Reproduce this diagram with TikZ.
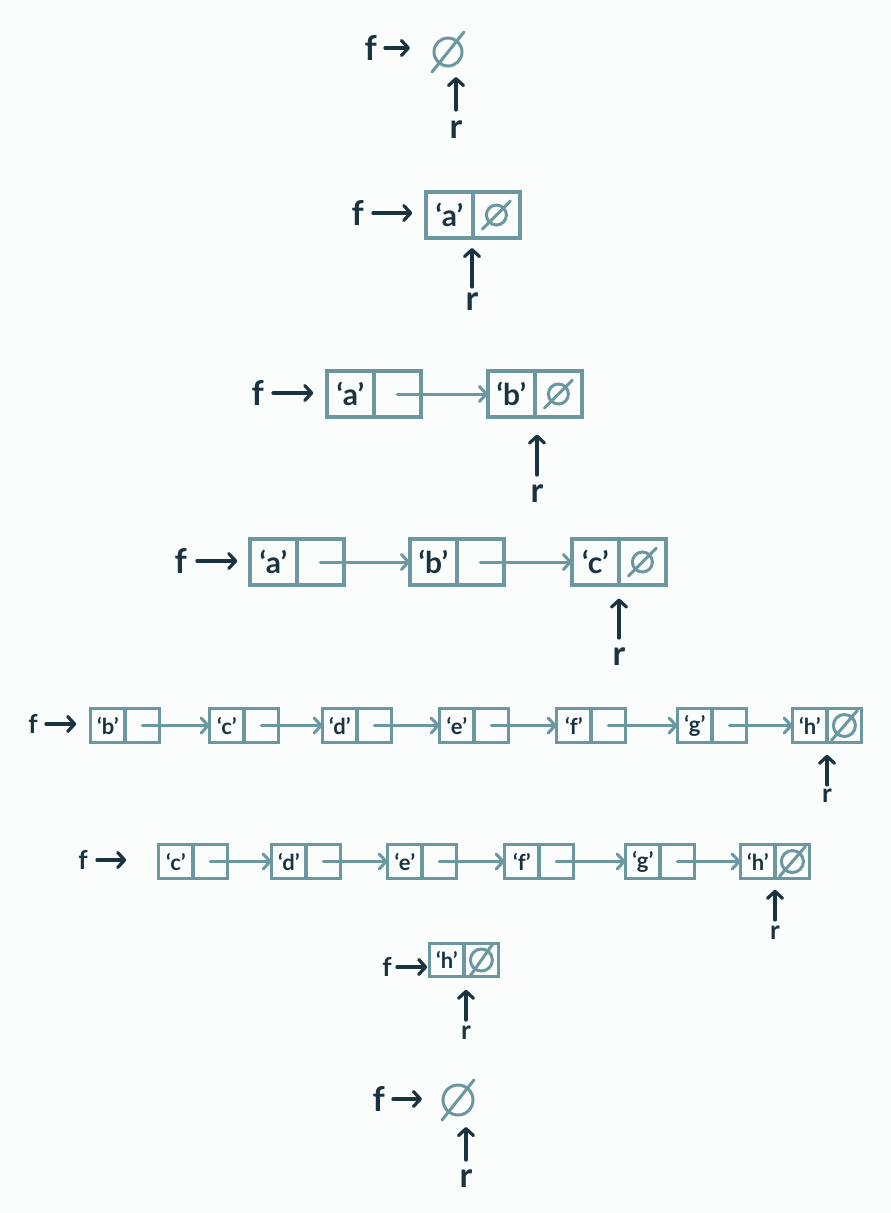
\documentclass[tikz,border=0pt]{standalone}
\usepackage{fontspec}
\setmainfont{Lato}
\usetikzlibrary{arrows.meta, positioning}

\definecolor{boxteal}{HTML}{6B97A1}
\definecolor{ink}{HTML}{1A3340}
\definecolor{paper}{HTML}{FBFCFC}

% slash through an empty-pointer ring
\newcommand{\nilslash}[3]{\draw[nilline] ([shift={(-#2,#3)}]#1.center) -- ([shift={(#2,-#3)}]#1.center);}

\begin{document}
\begin{tikzpicture}[x=1pt, y=-1pt,
    cell/.style = {rectangle, draw=boxteal, line width=4pt, outer sep=0pt, inner sep=0pt,
                   minimum width=47pt, minimum height=46pt, text=ink,
                   font=\fontsize{30}{32}\selectfont\bfseries},
    scell/.style = {cell, line width=3.4pt, minimum width=34.5pt, minimum height=33.5pt,
                    font=\fontsize{22}{24}\selectfont\bfseries},
    lbl/.style = {text=ink, inner sep=2pt, font=\fontsize{34}{36}\selectfont\bfseries},
    slbl/.style = {lbl, font=\fontsize{26}{28}\selectfont\bfseries},
    ptr/.style = {-{Straight Barb[length=7pt, width=15pt, round]}, line width=3.2pt, ink, line cap=round},
    link/.style = {-{Straight Barb[length=7pt, width=15pt, round]}, line width=3pt, boxteal, line cap=round},
    nilring/.style = {circle, draw=boxteal, line width=3pt, outer sep=0pt, inner sep=0pt, minimum size=#1},
    nilline/.style = {boxteal, line width=3pt, line cap=round},
]

\fill[paper] (0,0) rectangle (891,1213);
\useasboundingbox (0,0) rectangle (891,1213);

%% ---- Row 1: empty ----
\node[nilring=28pt] (nil1) at (448,52) {};
\nilslash{nil1}{16}{20}
\node[lbl, anchor=east] (f1) at (379,48) {f};
\draw[ptr, shorten <=6pt, shorten >=24pt] (f1.east) -- (f1.east -| nil1.west);
\node[lbl, anchor=north] (r1) at (456,119) {r};
\draw[ptr, shorten <=9pt, shorten >=11pt] (r1.north) -- (r1.north |- nil1.south);

%% ---- Row 2: 'a' ----
\node[cell] (c2a) at (449.4,215) {‘a’};
\node[cell, right=0pt of c2a] (n2a) {};
\node[nilring=20pt] (nil2) at (n2a.center) {};
\nilslash{nil2}{14}{14}
\node[lbl, anchor=east] (f2) at (366,213) {f};
\draw[ptr, shorten <=7pt, shorten >=13.6pt] (f2.east) -- (f2.east -| c2a.west);
\node[lbl, anchor=north] (r2) at (472,291) {r};
\draw[ptr, shorten <=4pt, shorten >=10pt] (r2.north) -- (r2.north |- n2a.south west);

%% ---- Row 3: 'a' 'b' ----
\node[cell] (c3a) at (350.4,394) {‘a’};
\node[cell, right=0pt of c3a] (n3a) {};
\node[cell] (c3b) at (511.4,394) {‘b’};
\node[cell, right=0pt of c3b] (n3b) {};
\node[nilring=20pt] (nil3) at (n3b.center) {};
\nilslash{nil3}{14}{14}
\draw[link] (n3a.center) -- (c3b.west);
\node[lbl, anchor=east] (f3) at (266,393) {f};
\draw[ptr, shorten <=7pt, shorten >=13.6pt] (f3.east) -- (f3.east -| c3a.west);
\node[lbl, anchor=north] (r3) at (537,483) {r};
\draw[ptr, shorten <=8pt, shorten >=17.5pt] (r3.north) -- (r3.north |- n3b.south west);

%% ---- Row 4: 'a' 'b' 'c' ----
\node[cell] (c4a) at (273.4,562) {‘a’};
\node[cell, right=0pt of c4a] (n4a) {};
\node[cell] (c4b) at (433.4,562) {‘b’};
\node[cell, right=0pt of c4b] (n4b) {};
\node[cell] (c4c) at (595.4,562) {‘c’};
\node[cell, right=0pt of c4c] (n4c) {};
\node[nilring=20pt] (nil4) at (n4c.center) {};
\nilslash{nil4}{14}{14}
\draw[link] (n4a.center) -- (c4b.west);
\draw[link] (n4b.center) -- (c4c.west);
\node[lbl, anchor=east] (f4) at (189,561) {f};
\draw[ptr, shorten <=8pt, shorten >=12.6pt] (f4.east) -- (f4.east -| c4a.west);
\node[lbl, anchor=north] (r4) at (619,646) {r};
\draw[ptr, shorten <=8pt, shorten >=13.5pt] (r4.north) -- (r4.north |- n4c.south west);

%% ---- Row 5: 'b' .. 'h' ----
\node[scell] (c5b) at (107.9,725.5) {‘b’};
\node[scell, right=0pt of c5b] (n5b) {};
\node[scell] (c5c) at (226.9,725.5) {‘c’};
\node[scell, right=0pt of c5c] (n5c) {};
\node[scell] (c5d) at (339.9,725.5) {‘d’};
\node[scell, right=0pt of c5d] (n5d) {};
\node[scell] (c5e) at (456.9,725.5) {‘e’};
\node[scell, right=0pt of c5e] (n5e) {};
\node[scell] (c5f) at (573.9,725.5) {‘f’};
\node[scell, right=0pt of c5f] (n5f) {};
\node[scell] (c5g) at (694.9,725.5) {‘g’};
\node[scell, right=0pt of c5g] (n5g) {};
\node[scell] (c5h) at (809.9,725.5) {‘h’};
\node[scell, right=0pt of c5h] (n5h) {};
\node[nilring=22pt] (nil5) at (n5h.center) {};
\nilslash{nil5}{13}{15}
\draw[link] (n5b.center) -- (c5c.west);
\draw[link] (n5c.center) -- (c5d.west);
\draw[link] (n5d.center) -- (c5e.west);
\draw[link] (n5e.center) -- (c5f.west);
\draw[link] (n5f.center) -- (c5g.west);
\draw[link] (n5g.center) -- (c5h.west);
\node[slbl, anchor=east] (f5) at (40,724) {f};
\draw[ptr, shorten <=6pt, shorten >=14.4pt] (f5.east) -- (f5.east -| c5b.west);
\node[slbl, anchor=north] (r5) at (827,787) {r};
\draw[ptr, shorten <=2pt, shorten >=12.5pt] (r5.north) -- (r5.north |- n5h.south west);

%% ---- Row 6: 'c' .. 'h' ----
\node[scell] (c6c) at (175.9,861.5) {‘c’};
\node[scell, right=0pt of c6c] (n6c) {};
\node[scell] (c6d) at (288.9,861.5) {‘d’};
\node[scell, right=0pt of c6d] (n6d) {};
\node[scell] (c6e) at (404.9,861.5) {‘e’};
\node[scell, right=0pt of c6e] (n6e) {};
\node[scell] (c6f) at (521.9,861.5) {‘f’};
\node[scell, right=0pt of c6f] (n6f) {};
\node[scell] (c6g) at (642.9,861.5) {‘g’};
\node[scell, right=0pt of c6g] (n6g) {};
\node[scell] (c6h) at (757.9,861.5) {‘h’};
\node[scell, right=0pt of c6h] (n6h) {};
\node[nilring=22pt] (nil6) at (n6h.center) {};
\nilslash{nil6}{13}{15}
\draw[link] (n6c.center) -- (c6d.west);
\draw[link] (n6d.center) -- (c6e.west);
\draw[link] (n6e.center) -- (c6f.west);
\draw[link] (n6f.center) -- (c6g.west);
\draw[link] (n6g.center) -- (c6h.west);
\node[slbl, anchor=east] (f6) at (90,860) {f};
\draw[ptr, shorten <=7pt, shorten >=32.4pt] (f6.east) -- (f6.east -| c6c.west);
\node[slbl, anchor=north] (r6) at (775,924) {r};
\draw[ptr, shorten <=4pt, shorten >=11.5pt] (r6.north) -- (r6.north |- n6h.south west);

%% ---- Row 7: 'h' ----
\node[scell] (c7h) at (446.9,960) {‘h’};
\node[scell, right=0pt of c7h] (n7h) {};
\node[nilring=22pt] (nil7) at (n7h.center) {};
\nilslash{nil7}{12}{17}
\node[slbl, anchor=east] (f7) at (394,967) {f};
\draw[ptr, shorten <=3pt, shorten >=2.4pt] (f7.east) -- (f7.east -| c7h.west);
\node[slbl, anchor=north] (r7) at (466,1024) {r};
\draw[ptr, shorten <=4pt, shorten >=13pt] (r7.north) -- (r7.north |- n7h.south west);

%% ---- Row 8: empty again ----
\node[nilring=30pt] (nil8) at (458,1100) {};
\nilslash{nil8}{16}{20}
\node[lbl, anchor=east] (f8) at (387,1099) {f};
\draw[ptr, shorten <=6pt, shorten >=21pt] (f8.east) -- (f8.east -| nil8.west);
\node[lbl, anchor=north] (r8) at (466,1168) {r};
\draw[ptr, shorten <=8pt, shorten >=12pt] (r8.north) -- (r8.north |- nil8.south);

\end{tikzpicture}
\end{document}
